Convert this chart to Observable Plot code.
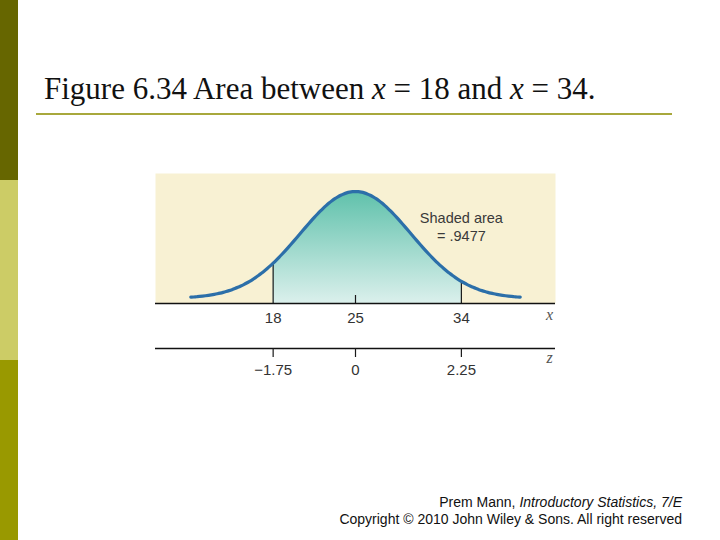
<!DOCTYPE html>
<html>
<head>
<meta charset="utf-8">
<script src="https://cdn.jsdelivr.net/npm/d3@7"></script>
<script src="https://cdn.jsdelivr.net/npm/@observablehq/plot@0.6"></script>
<style>
  html, body { margin: 0; padding: 0; background: #ffffff; }
  #page { position: relative; width: 720px; height: 540px; overflow: hidden; background: #fff; }
  .bar { position: absolute; left: 0; width: 18px; }
  #title { position: absolute; left: 44px; top: 71px; font-family: "Liberation Serif", "Times New Roman", serif; font-size: 31px; line-height: 36px; color: #111; white-space: nowrap; }
  #title i { font-style: italic; }
  #rule { position: absolute; left: 36px; top: 113px; width: 636px; height: 2px; background: #a8a83c; }
  #chart { position: absolute; left: 155px; top: 173px; }
  #footer { position: absolute; right: 38px; top: 494px; font-family: "Liberation Sans", Arial, sans-serif; font-size: 14px; line-height: 17px; color: #111; text-align: right; white-space: nowrap; }
</style>
</head>
<body>
<div id="page">
  <div class="bar" style="top:0;height:180px;background:#666600"></div>
  <div class="bar" style="top:180px;height:180px;background:#cccc66"></div>
  <div class="bar" style="top:360px;height:180px;background:#999900"></div>
  <div id="title">Figure 6.34 Area between <i>x</i> = 18 and <i>x</i> = 34.</div>
  <div id="rule"></div>
  <div id="chart"></div>
  <div id="footer">Prem Mann, <i>Introductory Statistics, 7/E</i><br>Copyright © 2010 John Wiley &amp; Sons. All right reserved</div>
</div>
<script>
// ---- chart values ----
const mean = 25;                 // μ
const sd = 4;                    // σ
const lowerBound = 18;           // x = 18
const upperBound = 34;           // x = 34
const xTicks = [18, 25, 34];
const zTicks = [-1.75, 0, 2.25];
const zTickLabels = ["\u22121.75", "0", "2.25"];
const shadedLabel = "Shaded area\n= .9477";
const curveStart = 11;           // drawn curve ends
const curveEnd = 39;
const drawnSpread = 4.7;         // visual width of the bell as drawn in the figure

// ---- derived ----
const bell = x => Math.exp(-0.5 * ((x - mean) / drawnSpread) ** 2);
const curve = d3.range(0, Math.round((curveEnd - curveStart) / 0.25) + 1)
  .map(i => curveStart + i * 0.25)
  .map(x => ({x, y: bell(x)}));
const shaded = curve.filter(d => d.x >= lowerBound && d.x <= upperBound);
const yMin = -0.047, yMax = 1.168;
const zData = zTicks.map((z, i) => ({x: mean + z * sd, label: zTickLabels[i]}));

const txt = {fontFamily: "Liberation Sans, Arial, sans-serif", fontSize: 15, fill: "#333"};

const plot = Plot.plot({
  width: 400,
  height: 215,
  marginTop: 0, marginRight: 0, marginBottom: 85, marginLeft: 0,
  x: {domain: [8, 42], axis: null},
  y: {domain: [yMin, yMax], axis: null},
  style: {background: "transparent", overflow: "visible"},
  marks: [
    Plot.frame({fill: "#f8f1d3", stroke: "none"}),
    Plot.areaY(shaded, {x: "x", y1: yMin, y2: "y", fill: "url(#shadeGrad)"}),
    Plot.ruleX([lowerBound, upperBound], {x: d => d, y1: yMin, y2: d => bell(d), stroke: "#1a1a1a", strokeWidth: 1.2}),
    Plot.ruleX([mean], {insetTop: 122, stroke: "#1a1a1a", strokeWidth: 1.2}),
    Plot.lineY(curve, {x: "x", y: "y", stroke: "#2c6fa9", strokeWidth: 3.2, strokeLinecap: "round", curve: "basis"}),
    Plot.ruleY([yMin], {stroke: "#111", strokeWidth: 1.3}),
    Plot.text(xTicks, {x: d => d, y: yMin, dy: 15, text: d => String(d), ...txt}),
    Plot.text(["x"], {frameAnchor: "bottom-right", dx: -6, dy: 16, text: d => d, fontFamily: "Liberation Serif, serif", fontStyle: "italic", fontSize: 16, fill: "#555", textAnchor: "middle"}),
    Plot.text([shadedLabel], {x: upperBound, frameAnchor: "top", lineAnchor: "middle", dy: 53, text: d => d, lineHeight: 1.25, ...txt, fill: "#3a3a3a", fontSize: 14.5}),
    // z axis
    Plot.ruleY([yMin], {dy: 45, stroke: "#111", strokeWidth: 1.3}),
    Plot.ruleX(zData, {x: "x", insetTop: 130, insetBottom: -9, dy: 45, stroke: "#1a1a1a", strokeWidth: 1.2}),
    Plot.text(zData, {x: "x", y: yMin, dy: 67, text: "label", ...txt}),
    Plot.text(["z"], {frameAnchor: "bottom-right", dx: -6, dy: 59, text: d => d, fontFamily: "Liberation Serif, serif", fontStyle: "italic", fontSize: 16, fill: "#555", textAnchor: "middle"})
  ]
});

const defs = d3.select(plot).insert("defs", ":first-child");
const grad = defs.append("linearGradient").attr("id", "shadeGrad")
  .attr("x1", 0).attr("y1", 0).attr("x2", 0).attr("y2", 1);
grad.append("stop").attr("offset", "0%").attr("stop-color", "#5fc1ab");
grad.append("stop").attr("offset", "100%").attr("stop-color", "#dbf0ec");

document.getElementById("chart").appendChild(plot);
</script>
</body>
</html>
